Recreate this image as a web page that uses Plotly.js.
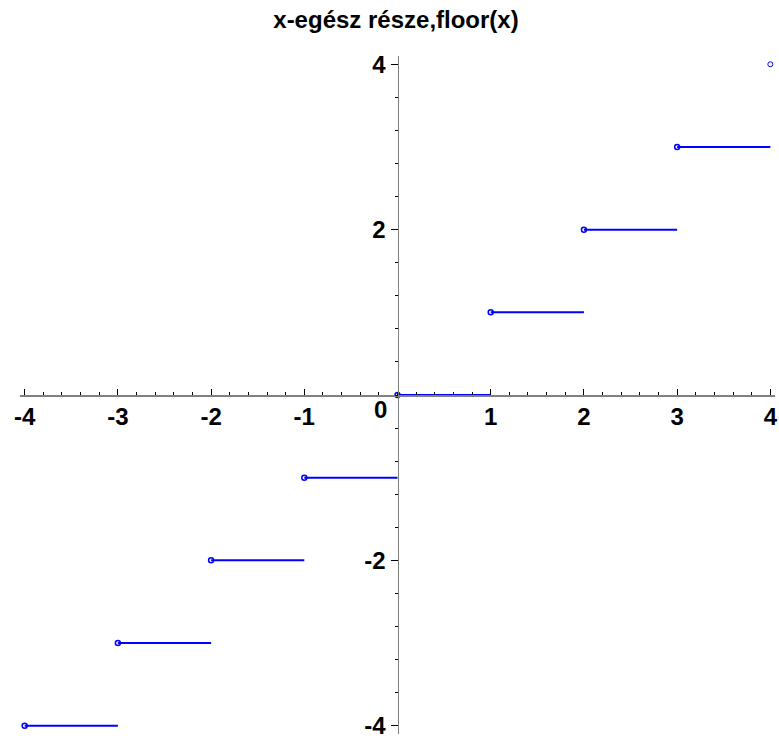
<!DOCTYPE html>
<html>
<head>
<meta charset="utf-8">
<script src="https://cdn.plot.ly/plotly-3.0.1.min.js"></script>
<style>html,body{margin:0;padding:0;background:#fff;}#chart{width:779px;height:738px;}</style>
</head>
<body>
<div id="chart"></div>
<script>
// Data
const stepStart = [-4, -3, -2, -1, 0, 1, 2, 3];
const stepEnd   = [-3, -2, -1, 0, 1, 2, 3, 4];
const stepValue = [-4, -3, -2, -1, 0, 1, 2, 3];
const endPointX = [4];
const endPointY = [4];
const xTickVals = [-4, -3, -2, -1, 1, 2, 3, 4];
const xTickText = ['-4', '-3', '-2', '-1', '1', '2', '3', '4'];
const yTickVals = [-4, -2, 2, 4];
const yTickText = ['-4', '-2', '2', '4'];
const originLabel = '0';
const titleText = 'x-egész része,floor(x)';

// Build segment lines (null-separated)
const lx = [], ly = [];
stepStart.forEach((s, i) => {
  lx.push(s, stepEnd[i], null);
  ly.push(stepValue[i], stepValue[i], null);
});

const blue = '#0000ff';
const axisGray = '#808080';
const tickFont = {family: 'Liberation Sans, Arial, sans-serif', size: 24, color: '#000', weight: 'bold'};

const traces = [
  {x: lx, y: ly, mode: 'lines', line: {color: blue, width: 2}, hoverinfo: 'skip'},
  {x: stepStart, y: stepValue, mode: 'markers', cliponaxis: false,
   marker: {symbol: 'circle-open', size: 5, color: blue, line: {color: blue, width: 1.5}}},
  {x: endPointX, y: endPointY, mode: 'markers', cliponaxis: false,
   marker: {symbol: 'circle-open', size: 5, color: blue, line: {color: blue, width: 1}}}
];

const layout = {
  width: 779, height: 738,
  margin: {l: 20.34, r: 4.34, t: 55.7, b: 3.7, pad: 0},
  paper_bgcolor: '#fff', plot_bgcolor: '#fff',
  showlegend: false,
  title: {text: titleText, font: {family: 'Liberation Sans, Arial, sans-serif', size: 24, color: '#000', weight: 'bold'},
          xref: 'container', x: 396 / 779, xanchor: 'center', yref: 'container', y: 1 - 20 / 738, yanchor: 'middle'},
  xaxis: {
    range: [-4.05, 4.05], anchor: 'free', position: 0.5, side: 'bottom',
    showgrid: false, zeroline: false,
    showline: true, linecolor: axisGray, linewidth: 1.5,
    tickmode: 'array', tickvals: xTickVals, ticktext: xTickText,
    ticks: 'inside', ticklen: 6, tickwidth: 1, tickcolor: '#000',
    minor: {tickmode: 'linear', tick0: 0, dtick: 0.2, ticks: 'inside', ticklen: 3, tickwidth: 1, tickcolor: '#000', showgrid: false},
    tickfont: tickFont, ticklabelstandoff: 0, ticklabeloverflow: 'allow'
  },
  yaxis: {
    range: [-4.1, 4.1], anchor: 'free', position: 0.5, side: 'left',
    showgrid: false, zeroline: false,
    showline: true, linecolor: axisGray, linewidth: 1.5,
    tickmode: 'array', tickvals: yTickVals, ticktext: yTickText,
    ticks: 'outside', ticklen: 7, tickwidth: 1, tickcolor: '#000',
    minor: {tickmode: 'linear', tick0: 0, dtick: 0.4, ticks: 'outside', ticklen: 3, tickwidth: 1, tickcolor: '#000', showgrid: false},
    tickfont: tickFont, ticklabeloverflow: 'allow'
  },
  annotations: [
    {text: originLabel, x: 0, y: 0, xref: 'x', yref: 'y', showarrow: false,
     xanchor: 'right', yanchor: 'top', xshift: -9, yshift: 1, font: tickFont}
  ]
};

Plotly.newPlot('chart', traces, layout, {displayModeBar: false, staticPlot: true});
</script>
</body>
</html>
